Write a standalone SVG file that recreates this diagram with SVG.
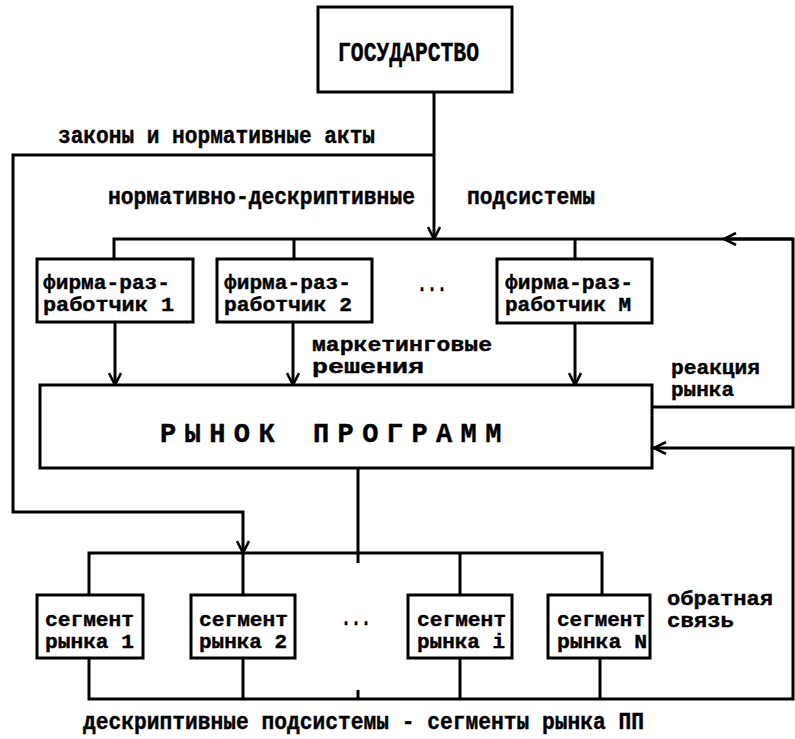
<svg xmlns="http://www.w3.org/2000/svg" width="795" height="739" viewBox="0 0 795 739">
<style>
  .box{fill:#fff;stroke:#000;stroke-width:3}
  .ln{fill:none;stroke:#000;stroke-width:3}
  text{font-family:"Liberation Mono","DejaVu Sans Mono",monospace;font-weight:bold;fill:#000;stroke:#000;stroke-width:0.4}
  .t{font-size:23px}
  .s{font-size:20px}
  .c{font-size:27px}
</style>
<defs>
  <marker id="arr" viewBox="0 0 14 14" refX="13" refY="7" markerWidth="14" markerHeight="14" markerUnits="userSpaceOnUse" orient="auto">
    <path d="M1,1 L13,7 L1,13" fill="none" stroke="#000" stroke-width="2.6"/>
  </marker>
</defs>
<rect width="795" height="739" fill="#fff"/>

<g id="connectors">
  <path class="ln" d="M434,92 V239" marker-end="url(#arr)"/>
  <path class="ln" d="M434,155 H13 V512 H243 V553" marker-end="url(#arr)"/>
  <path class="ln" d="M114,259 V239 H793"/>
  <path class="ln" d="M294,239 V259"/>
  <path class="ln" d="M575,239 V259"/>
  <path class="ln" d="M652,407 H793 V239 H724" marker-end="url(#arr)"/>
  <path class="ln" d="M115,322 V385" marker-end="url(#arr)"/>
  <path class="ln" d="M293,322 V385" marker-end="url(#arr)"/>
  <path class="ln" d="M575,323 V385" marker-end="url(#arr)"/>
  <path class="ln" d="M358,468 V563"/>
  <path class="ln" d="M89,595 V553 H602 V595"/>
  <path class="ln" d="M243,553 V595"/>
  <path class="ln" d="M460,553 V595"/>
  <path class="ln" d="M89,658 V699 H793 V448 H654" marker-end="url(#arr)"/>
  <path class="ln" d="M243,658 V699"/>
  <path class="ln" d="M460,658 V699"/>
  <path class="ln" d="M600,658 V699"/>
  <path class="ln" d="M358,690 V699"/>
</g>

<g id="state">
  <rect class="box" x="318" y="7" width="194" height="85"/>
  <text class="c" x="338" y="61" textLength="141" lengthAdjust="spacingAndGlyphs">ГОСУДАРСТВО</text>
</g>

<g id="labels-top">
  <text class="t" x="58" y="143" textLength="317" lengthAdjust="spacingAndGlyphs">законы и нормативные акты</text>
  <text class="t" x="108" y="204" textLength="307" lengthAdjust="spacingAndGlyphs">нормативно-дескриптивные</text>
  <text class="t" x="467" y="204" textLength="128" lengthAdjust="spacingAndGlyphs">подсистемы</text>
</g>

<g id="firm1">
  <rect class="box" x="37" y="259" width="156" height="63"/>
  <text class="s" x="43" y="289" textLength="127" lengthAdjust="spacingAndGlyphs">фирма-раз-</text>
  <text class="s" x="43" y="311" textLength="131" lengthAdjust="spacingAndGlyphs">работчик 1</text>
</g>
<g id="firm2">
  <rect class="box" x="217" y="259" width="155" height="63"/>
  <text class="s" x="224" y="289" textLength="127" lengthAdjust="spacingAndGlyphs">фирма-раз-</text>
  <text class="s" x="224" y="311" textLength="128" lengthAdjust="spacingAndGlyphs">работчик 2</text>
</g>
<g id="firmM">
  <rect class="box" x="497" y="259" width="155" height="64"/>
  <text class="s" x="505" y="289" textLength="128" lengthAdjust="spacingAndGlyphs">фирма-раз-</text>
  <text class="s" x="505" y="311" textLength="126" lengthAdjust="spacingAndGlyphs">работчик М</text>
</g>
<text class="t" x="417" y="291" textLength="30" lengthAdjust="spacingAndGlyphs">...</text>

<g id="labels-mid">
  <text class="s" x="312" y="351" textLength="180" lengthAdjust="spacingAndGlyphs">маркетинговые</text>
  <text class="s" x="312" y="373" textLength="112" lengthAdjust="spacingAndGlyphs">решения</text>
  <text class="s" x="671" y="374" textLength="89" lengthAdjust="spacingAndGlyphs">реакция</text>
  <text class="s" x="671" y="396" textLength="63" lengthAdjust="spacingAndGlyphs">рынка</text>
</g>

<g id="market">
  <rect class="box" x="40" y="385" width="612" height="83"/>
  <text class="c" x="160" y="442" letter-spacing="8.4">РЫНОК</text>
  <text class="c" x="313" y="442" letter-spacing="8.4">ПРОГРАММ</text>
</g>

<g id="seg1">
  <rect class="box" x="37" y="595" width="106" height="63"/>
  <text class="s" x="45" y="626" textLength="89" lengthAdjust="spacingAndGlyphs">сегмент</text>
  <text class="s" x="45" y="648" textLength="89" lengthAdjust="spacingAndGlyphs">рынка 1</text>
</g>
<g id="seg2">
  <rect class="box" x="191" y="595" width="104" height="63"/>
  <text class="s" x="199" y="626" textLength="89" lengthAdjust="spacingAndGlyphs">сегмент</text>
  <text class="s" x="199" y="648" textLength="88" lengthAdjust="spacingAndGlyphs">рынка 2</text>
</g>
<g id="segi">
  <rect class="box" x="408" y="595" width="104" height="63"/>
  <text class="s" x="417" y="626" textLength="89" lengthAdjust="spacingAndGlyphs">сегмент</text>
  <text class="s" x="417" y="648" textLength="88" lengthAdjust="spacingAndGlyphs">рынка i</text>
</g>
<g id="segN">
  <rect class="box" x="548" y="595" width="102" height="63"/>
  <text class="s" x="557" y="626" textLength="88" lengthAdjust="spacingAndGlyphs">сегмент</text>
  <text class="s" x="557" y="648" textLength="90" lengthAdjust="spacingAndGlyphs">рынка N</text>
</g>
<text class="t" x="341" y="625" textLength="30" lengthAdjust="spacingAndGlyphs">...</text>

<g id="labels-bottom">
  <text class="s" x="667" y="605" textLength="106" lengthAdjust="spacingAndGlyphs">обратная</text>
  <text class="s" x="667" y="627" textLength="67" lengthAdjust="spacingAndGlyphs">связь</text>
  <text class="t" x="83" y="729" textLength="561" lengthAdjust="spacingAndGlyphs">дескриптивные подсистемы - сегменты рынка ПП</text>
</g>
</svg>
